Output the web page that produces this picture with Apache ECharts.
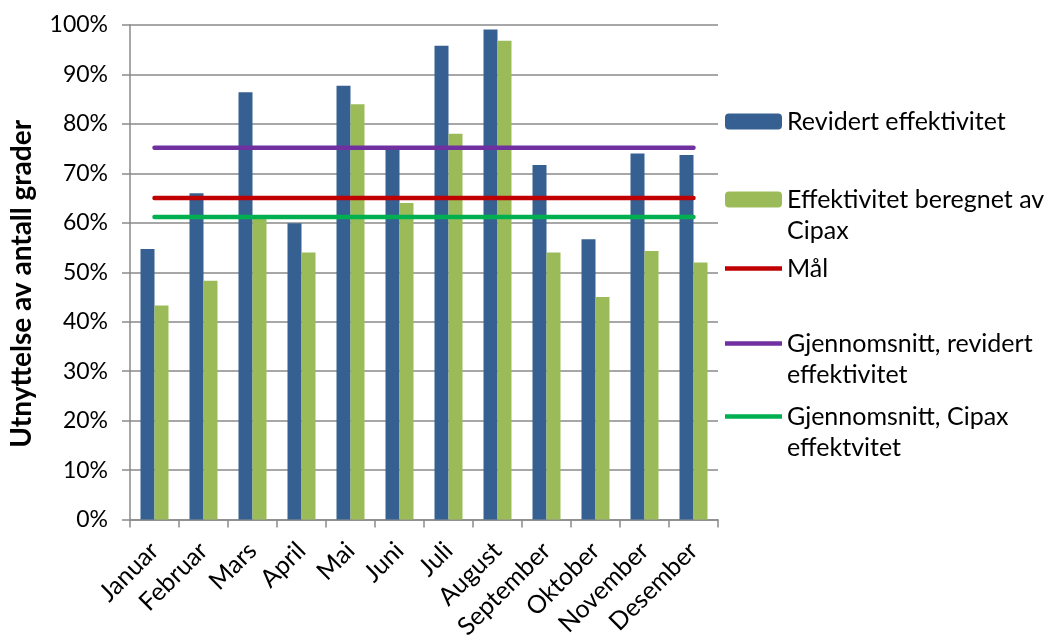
<!DOCTYPE html>
<html>
<head>
<meta charset="utf-8">
<script src="https://cdn.jsdelivr.net/npm/echarts@6/dist/echarts.min.js"></script>
<style>
  html, body { margin: 0; padding: 0; background: #fff; }
  #chart { width: 1051px; height: 642px; }
</style>
</head>
<body>
<div id="chart"></div>
<script>
// Månedlig utnyttelse (prosent)
const months = ['Januar', 'Februar', 'Mars', 'April', 'Mai', 'Juni', 'Juli', 'August', 'September', 'Oktober', 'November', 'Desember'];
const revidert = [54.7, 66.0, 86.4, 59.9, 87.7, 75.1, 95.8, 99.1, 71.7, 56.7, 74.0, 73.7];
const cipax = [43.3, 48.3, 61.0, 54.0, 84.0, 64.0, 78.0, 96.8, 54.0, 45.0, 54.3, 52.0];
const maal = [65, 65, 65, 65, 65, 65, 65, 65, 65, 65, 65, 65];
const snittRevidert = [75.2, 75.2, 75.2, 75.2, 75.2, 75.2, 75.2, 75.2, 75.2, 75.2, 75.2, 75.2];
const snittCipax = [61.2, 61.2, 61.2, 61.2, 61.2, 61.2, 61.2, 61.2, 61.2, 61.2, 61.2, 61.2];
const yTicks = [0, 10, 20, 30, 40, 50, 60, 70, 80, 90, 100];

const FONT = 'Lato, "Open Sans", sans-serif';
const names = {
  rev: 'Revidert effektivitet',
  cip: 'Effektivitet beregnet av\nCipax',
  maal: 'Mål',
  snRev: 'Gjennomsnitt, revidert\neffektivitet',
  snCip: 'Gjennomsnitt, Cipax\neffektvitet'
};

// thin bar used as the legend mark for the line series
const LINE_ICON = 'path://M0,0H57V4.5H0Z';

function legendFor(name, top, multiline, isLine) {
  return {
    data: [isLine ? { name: name, icon: LINE_ICON } : name],
    orient: 'vertical',
    left: 725,
    top: top,
    padding: 0,
    itemWidth: 57,
    itemHeight: 16,
    formatter: multiline ? (n => '\n' + n) : (n => n),
    textStyle: { fontFamily: FONT, fontSize: 25, lineHeight: 31, color: '#000' },
    selectedMode: false
  };
}

const chart = echarts.init(document.getElementById('chart'), null, { renderer: 'canvas' });
chart.setOption({
  animation: false,
  backgroundColor: '#fff',
  grid: { left: 130, right: 333, top: 25, bottom: 122, containLabel: false },
  legend: [
    legendFor(names.rev, 106, false, false),
    legendFor(names.cip, 153, true, false),
    legendFor(names.maal, 253, false, true),
    legendFor(names.snRev, 297, true, true),
    legendFor(names.snCip, 370, true, true)
  ],
  xAxis: {
    type: 'category',
    data: months,
    axisLine: { lineStyle: { color: '#8a8a8a', width: 1.5 } },
    axisTick: { show: true, length: 8, lineStyle: { color: '#8a8a8a', width: 1.5 } },
    axisLabel: { rotate: 45, fontFamily: FONT, fontSize: 25, color: '#000', margin: 27, interval: 0 }
  },
  yAxis: {
    type: 'value',
    min: 0,
    max: 100,
    interval: 10,
    name: 'Utnyttelse av antall grader',
    nameLocation: 'middle',
    nameGap: 94,
    nameTextStyle: { fontFamily: FONT, fontSize: 28, fontWeight: 'bold', color: '#000', padding: [0, 23, 0, 0] },
    axisLine: { show: true, lineStyle: { color: '#8a8a8a', width: 1.5 } },
    axisTick: { show: true, length: 8, lineStyle: { color: '#8a8a8a', width: 1.5 } },
    axisLabel: {
      fontFamily: FONT, fontSize: 23, color: '#000', margin: 22,
      formatter: v => (yTicks.indexOf(v) >= 0 ? v + '%' : '')
    },
    splitLine: { lineStyle: { color: '#8a8a8a', width: 1.5 } }
  },
  series: [
    { name: names.rev, type: 'bar', data: revidert, barWidth: 14, barGap: '0%', itemStyle: { color: '#376092' } },
    { name: names.cip, type: 'bar', data: cipax, barWidth: 14, barGap: '0%', itemStyle: { color: '#9BBB59' } },
    { name: names.maal, type: 'line', data: maal, symbol: 'none', lineStyle: { color: '#C00000', width: 4.5, cap: 'round' }, itemStyle: { color: '#C00000' } },
    { name: names.snRev, type: 'line', data: snittRevidert, symbol: 'none', lineStyle: { color: '#7030A0', width: 4.5, cap: 'round' }, itemStyle: { color: '#7030A0' } },
    { name: names.snCip, type: 'line', data: snittCipax, symbol: 'none', lineStyle: { color: '#00B050', width: 4.5, cap: 'round' }, itemStyle: { color: '#00B050' } }
  ]
});
</script>
</body>
</html>
